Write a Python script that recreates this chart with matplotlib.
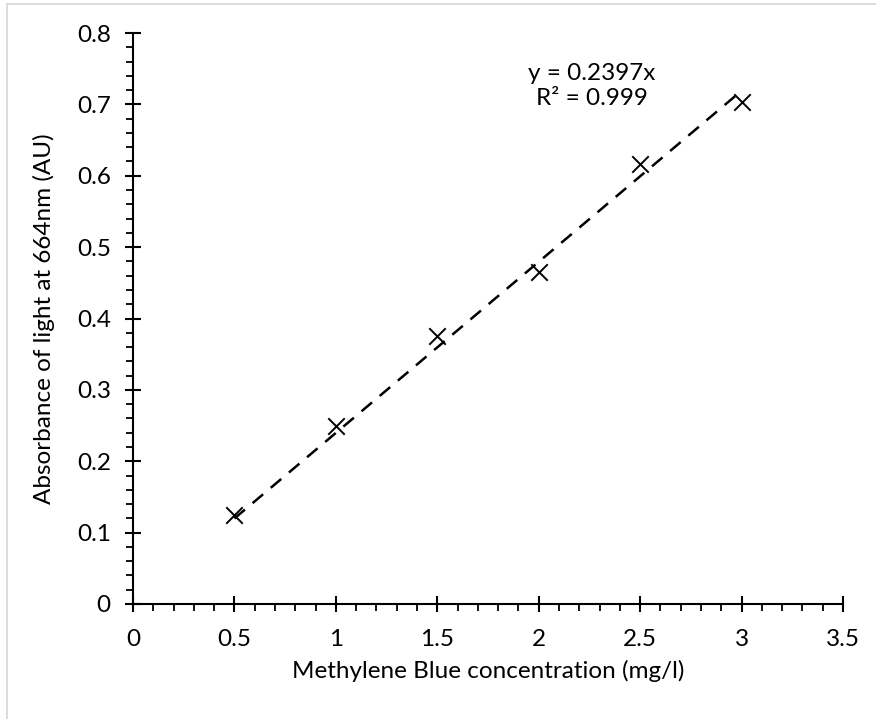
import numpy as np
import matplotlib.pyplot as plt
from matplotlib.ticker import MultipleLocator, FuncFormatter
from matplotlib.lines import Line2D

plt.rcParams['font.family'] = ['Lato', 'DejaVu Sans']

# calibration data
conc = [0.5, 1.0, 1.5, 2.0, 2.5, 3.0]
absorb = [0.125, 0.249, 0.376, 0.465, 0.617, 0.703]
slope = 0.2397
r2 = 0.999

fig = plt.figure(figsize=(8.76, 7.19), dpi=100)
ax = fig.add_axes([133 / 876, 115 / 719, 710 / 876, 571 / 719])

# trendline forced through the origin
xf = np.array([min(conc), max(conc)])
ax.plot(xf, slope * xf, color='black', linestyle=(0, (5.5, 4)), linewidth=1.8)
ax.scatter(conc, absorb, marker='x', s=140, color='black', linewidths=1.4, zorder=3)

ax.set_xlim(0, 3.5)
ax.set_ylim(0, 0.8)
ax.set_xticks(np.arange(0, 3.51, 0.5))
ax.set_yticks(np.arange(0, 0.81, 0.1))
ax.xaxis.set_minor_locator(MultipleLocator(0.1))
ax.yaxis.set_minor_locator(MultipleLocator(0.02))
fmt = FuncFormatter(lambda v, p: ('%.1f' % v).rstrip('0').rstrip('.'))
ax.xaxis.set_major_formatter(fmt)
ax.yaxis.set_major_formatter(fmt)

for s in ['top', 'right']:
    ax.spines[s].set_visible(False)
for s in ['left', 'bottom']:
    ax.spines[s].set_linewidth(1.5)

ax.tick_params(which='major', direction='inout', length=12, width=1.5,
               labelsize=17.5)
ax.tick_params(axis='x', which='major', pad=12)
ax.tick_params(axis='y', which='major', pad=10)
ax.tick_params(which='minor', direction='out', length=5, width=1.3)

ax.set_xlabel('Methylene Blue concentration (mg/l)', fontsize=17.5, labelpad=7)
ax.set_ylabel('Absorbance of light at 664nm (AU)', fontsize=17.5, labelpad=16)

ax.text(2.26, 0.7255, 'y = 0.2397x\nR² = 0.999', ha='center', va='center',
        fontsize=17.5, linespacing=1.2)

# thin grey frame around the figure
fig.add_artist(Line2D([7 / 876, 7 / 876], [0, 1 - 4 / 719], color='#d9d9d9', lw=1.3))
fig.add_artist(Line2D([7 / 876, 1], [1 - 4 / 719, 1 - 4 / 719], color='#d9d9d9', lw=1.3))

fig.savefig('out.png', dpi=100, facecolor='white')
